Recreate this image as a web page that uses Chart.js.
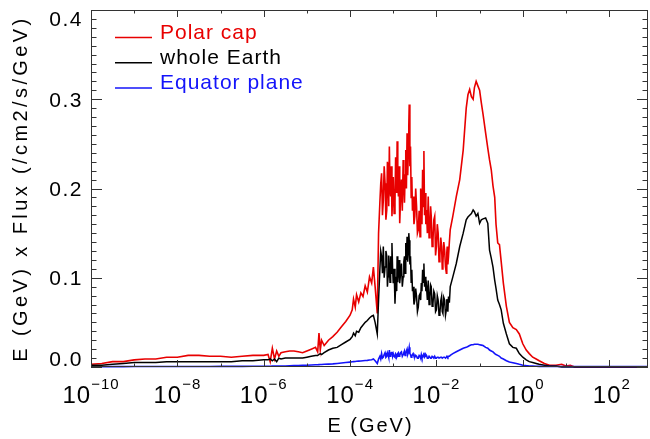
<!DOCTYPE html>
<html>
<head>
<meta charset="utf-8">
<script src="https://cdn.jsdelivr.net/npm/chart.js@4"></script>
<style>
  html, body { margin: 0; padding: 0; background: #fff; }
</style>
</head>
<body>
<canvas id="flux" width="650" height="439"></canvas>
<script>
// log10 of energy (GeV) for each sample
const logE = [
  -10, -9.75, -9.5, -9.25, -9, -8.75, -8.5, -8.25, -8, -7.75, -7.5, -7.25, -7, -6.75, -6.5, -6.25, -6,
  -5.9, -5.85, -5.8, -5.75, -5.7, -5.65, -5.6, -5.5, -5.4, -5.3, -5.2, -5.1, -5, -4.9, -4.8, -4.75, -4.72, -4.69, -4.66, -4.6,
  -4.5, -4.4, -4.3, -4.2, -4.1, -4, -3.95, -3.92, -3.88, -3.85, -3.8, -3.75, -3.7, -3.65, -3.6, -3.55, -3.5, -3.46, -3.42, -3.37, -3.34,
  -3.31, -3.29, -3.27, -3.25, -3.23, -3.21, -3.19, -3.17, -3.15, -3.135,
  -3.12, -3.105, -3.09, -3.075, -3.06, -3.045, -3.03, -3.015, -3, -2.98,
  -2.96, -2.945, -2.93, -2.92, -2.91, -2.895, -2.88, -2.865, -2.85, -2.83,
  -2.81, -2.79, -2.77, -2.755, -2.74, -2.725, -2.71, -2.695, -2.68, -2.665,
  -2.65, -2.64, -2.63, -2.615, -2.6, -2.585, -2.57, -2.555, -2.54, -2.52,
  -2.5, -2.48, -2.46, -2.44, -2.42, -2.4, -2.38, -2.365, -2.35, -2.335,
  -2.32, -2.305, -2.29, -2.275, -2.26, -2.245, -2.23, -2.21, -2.19, -2.17,
  -2.15, -2.135, -2.12, -2.1, -2.08, -2.06, -2.04, -2.02, -2, -1.98,
  -1.96, -1.94, -1.92, -1.9, -1.88, -1.865, -1.85, -1.83, -1.81, -1.79,
  -1.77, -1.76, -1.75, -1.735, -1.72, -1.7, -1.68,
  -1.62, -1.54, -1.46, -1.38, -1.31, -1.27, -1.23, -1.19, -1.15, -1.12, -1.08, -1.04, -1, -0.96, -0.92, -0.86, -0.81, -0.77, -0.73, -0.69,
  -0.65, -0.62, -0.58, -0.54, -0.5, -0.45, -0.38, -0.31, -0.23, -0.15, -0.08, 0, 0.08, 0.15, 0.23, 0.31, 0.38, 0.5, 0.62, 0.77,
  0.9, 1, 1.1, 1.2,
  1.5, 2, 2.5, 2.9
];

const polarCap = [
  0.003, 0.004, 0.006, 0.006, 0.008, 0.009, 0.009, 0.011, 0.011, 0.013, 0.013, 0.012, 0.012, 0.011, 0.012, 0.013, 0.013,
  0.014, 0.006, 0.021, 0.009, 0.018, 0.012, 0.016, 0.017, 0.018, 0.018, 0.017, 0.016, 0.018, 0.020, 0.022, 0.017, 0.038, 0.019, 0.030, 0.024,
  0.030, 0.034, 0.039, 0.045, 0.051, 0.058, 0.064, 0.076, 0.067, 0.081, 0.073, 0.083, 0.079, 0.091, 0.084, 0.101, 0.094, 0.112, 0.090, 0.060, 0.150,
  0.184, 0.205, 0.217, 0.170, 0.187, 0.225, 0.206, 0.165, 0.176, 0.230,
  0.221, 0.180, 0.247, 0.200, 0.191, 0.225, 0.169, 0.190, 0.213, 0.172,
  0.184, 0.235, 0.221, 0.195, 0.253, 0.210, 0.191, 0.225, 0.161, 0.190,
  0.210, 0.175, 0.232, 0.205, 0.184, 0.215, 0.243, 0.200, 0.262, 0.215,
  0.240, 0.270, 0.294, 0.225, 0.247, 0.190, 0.213, 0.175, 0.191, 0.160,
  0.169, 0.200, 0.180, 0.150, 0.154, 0.175, 0.146, 0.200, 0.184, 0.160,
  0.221, 0.180, 0.242, 0.170, 0.195, 0.160, 0.176, 0.150, 0.191, 0.145,
  0.157, 0.180, 0.169, 0.135, 0.142, 0.165, 0.169, 0.125, 0.135, 0.160,
  0.150, 0.118, 0.124, 0.145, 0.135, 0.110, 0.116, 0.140, 0.131, 0.112,
  0.105, 0.128, 0.135, 0.115, 0.124, 0.140, 0.154,
  0.169, 0.191, 0.210, 0.243, 0.290, 0.305, 0.311, 0.303, 0.300, 0.313, 0.320, 0.315, 0.310, 0.296, 0.283, 0.262, 0.245, 0.232, 0.221, 0.203,
  0.190, 0.160, 0.139, 0.137, 0.118, 0.094, 0.068, 0.050, 0.044, 0.042, 0.037, 0.026, 0.019, 0.015, 0.011, 0.009, 0.007, 0.004, 0.002, 0.002,
  0.003, 0.001, 0.002, 0,
  0, 0, 0, 0
];

const wholeEarth = [
  0.002, 0.002, 0.003, 0.004, 0.005, 0.005, 0.005, 0.006, 0.006, 0.006, 0.006, 0.006, 0.006, 0.006, 0.007, 0.007, 0.008,
  0.008, 0.009, 0.007, 0.009, 0.006, 0.010, 0.009, 0.010, 0.010, 0.010, 0.010, 0.010, 0.011, 0.012, 0.013, 0.013, 0.014, 0.015, 0.014, 0.016,
  0.019, 0.021, 0.022, 0.025, 0.028, 0.031, 0.034, 0.038, 0.035, 0.040, 0.039, 0.044, 0.047, 0.050, 0.052, 0.055, 0.057, 0.058, 0.050, 0.037, 0.075,
  0.109, 0.130, 0.124, 0.105, 0.135, 0.100, 0.112, 0.130, 0.124, 0.090,
  0.101, 0.125, 0.112, 0.095, 0.124, 0.105, 0.139, 0.110, 0.094, 0.110,
  0.071, 0.090, 0.101, 0.085, 0.124, 0.095, 0.109, 0.120, 0.094, 0.105,
  0.116, 0.090, 0.101, 0.118, 0.124, 0.105, 0.139, 0.120, 0.146, 0.118,
  0.131, 0.150, 0.142, 0.115, 0.124, 0.095, 0.109, 0.085, 0.090, 0.070,
  0.075, 0.088, 0.079, 0.062, 0.067, 0.080, 0.082, 0.075, 0.094, 0.085,
  0.109, 0.095, 0.116, 0.090, 0.101, 0.085, 0.090, 0.075, 0.097, 0.070,
  0.079, 0.092, 0.090, 0.068, 0.071, 0.085, 0.082, 0.062, 0.064, 0.080,
  0.075, 0.058, 0.060, 0.074, 0.079, 0.062, 0.060, 0.078, 0.075, 0.058,
  0.064, 0.076, 0.071, 0.062, 0.079, 0.072, 0.090,
  0.101, 0.116, 0.135, 0.150, 0.165, 0.168, 0.170, 0.172, 0.176, 0.174, 0.169, 0.172, 0.161, 0.165, 0.166, 0.167, 0.161, 0.131, 0.122, 0.112,
  0.097, 0.088, 0.075, 0.070, 0.064, 0.049, 0.037, 0.026, 0.022, 0.021, 0.015, 0.011, 0.008, 0.006, 0.005, 0.004, 0.003, 0.002, 0.001, 0.001,
  0, 0, 0, 0,
  0, 0, 0, 0
];

const equatorPlane = [
  0.0003, 0.0003, 0.0004, 0.0004, 0.0005, 0.0005, 0.0005, 0.0005, 0.0006, 0.0006, 0.0006, 0.0006, 0.0007, 0.0007, 0.0007, 0.0008, 0.0008,
  0.0009, 0.0009, 0.001, 0.001, 0.001, 0.001, 0.0011, 0.0012, 0.0013, 0.0015, 0.0016, 0.0018, 0.002, 0.0022, 0.0025, 0.0026, 0.0027, 0.0028, 0.0028, 0.003,
  0.0032, 0.0035, 0.004, 0.0045, 0.005, 0.0055, 0.0058, 0.006, 0.0062, 0.0064, 0.0066, 0.0068, 0.007, 0.0072, 0.0074, 0.0078, 0.0082, 0.009, 0.007, 0.004, 0.009,
  0.012, 0.009, 0.015, 0.010, 0.011, 0.014, 0.016, 0.011, 0.012, 0.016,
  0.014, 0.011, 0.019, 0.012, 0.013, 0.016, 0.017, 0.012, 0.015, 0.012,
  0.011, 0.015, 0.014, 0.011, 0.012, 0.015, 0.016, 0.012, 0.013, 0.016,
  0.017, 0.012, 0.014, 0.016, 0.018, 0.013, 0.015, 0.018, 0.020, 0.014,
  0.016, 0.019, 0.022, 0.015, 0.014, 0.011, 0.012, 0.014, 0.015, 0.012,
  0.011, 0.013, 0.012, 0.010, 0.010, 0.013, 0.012, 0.010, 0.014, 0.011,
  0.011, 0.013, 0.016, 0.011, 0.012, 0.014, 0.013, 0.010, 0.010, 0.012,
  0.012, 0.010, 0.010, 0.012, 0.011, 0.010, 0.012, 0.010, 0.010, 0.011,
  0.011, 0.010, 0.010, 0.011, 0.011, 0.010, 0.010, 0.011, 0.011, 0.010,
  0.011, 0.012, 0.012, 0.011, 0.012, 0.012, 0.013,
  0.015, 0.017, 0.019, 0.021, 0.022, 0.023, 0.024, 0.025, 0.025, 0.0255, 0.0255, 0.0255, 0.025, 0.0245, 0.024, 0.022, 0.021, 0.019, 0.018, 0.017,
  0.015, 0.014, 0.013, 0.012, 0.010, 0.009, 0.007, 0.0056, 0.0048, 0.004, 0.003, 0.002, 0.0015, 0.0012, 0.001, 0.0008, 0.0007, 0.0006, 0.0005, 0.0005,
  0.0005, 0.0005, 0.0005, 0.0005,
  0.0005, 0.0005, 0.0005, 0.0005
];

const seriesNames = ['Polar cap', 'whole Earth', 'Equator plane'];
const seriesColors = ['rgb(232,0,0)', 'rgb(0,0,0)', 'rgb(20,20,250)'];

// axis ticks
const yMajor = [0, 0.1, 0.2, 0.3, 0.4];
const yLabels = ['0.0', '0.1', '0.2', '0.3', '0.4'];
const xDecades = [-10, -9, -8, -7, -6, -5, -4, -3, -2, -1, 0, 1, 2];
const xLabelled = [-10, -8, -6, -4, -2, 0, 2];

const FONT = '"Liberation Sans", Arial, sans-serif';

function points(values) {
  return values.map((v, i) => ({ x: Math.pow(10, logE[i]), y: v }));
}

// IDL-style box with inward ticks, labels, titles and legend
const frame = {
  id: 'frame',
  afterDraw(chart) {
    const { ctx, chartArea: a, scales: { x, y } } = chart;
    ctx.save();
    ctx.strokeStyle = '#333';
    ctx.lineWidth = 1;
    ctx.strokeRect(a.left + 0.5, a.top + 0.5, a.right - a.left - 1, a.bottom - a.top - 1);

    // y ticks, every 0.01
    ctx.beginPath();
    for (let i = 0; i <= 40; i++) {
      const py = Math.round(y.getPixelForValue(i / 100)) + 0.5;
      const len = i % 10 === 0 ? 11 : 5.5;
      ctx.moveTo(a.left, py); ctx.lineTo(a.left + len, py);
      ctx.moveTo(a.right, py); ctx.lineTo(a.right - len, py);
    }
    // x ticks, every decade
    xDecades.forEach(d => {
      const px = Math.round(x.getPixelForValue(Math.pow(10, d))) + 0.5;
      const len = xLabelled.includes(d) ? 7 : 3.5;
      ctx.moveTo(px, a.bottom); ctx.lineTo(px, a.bottom - len);
      ctx.moveTo(px, a.top); ctx.lineTo(px, a.top + len);
    });
    ctx.stroke();

    ctx.fillStyle = '#000';
    // y tick labels
    ctx.font = '21px ' + FONT;
    ctx.letterSpacing = '1.5px';
    ctx.textAlign = 'right';
    ctx.textBaseline = 'middle';
    yMajor.forEach((v, i) => {
      let py = y.getPixelForValue(v) + 1.5;
      py = Math.min(Math.max(py, a.top + 10), a.bottom - 6.5);
      ctx.fillText(yLabels[i], 83, py);
    });

    // x tick labels: 10 with raised exponent
    ctx.textAlign = 'left';
    ctx.textBaseline = 'alphabetic';
    xLabelled.forEach(d => {
      const px = x.getPixelForValue(Math.pow(10, d));
      const exp = (d < 0 ? '\u2212' : '') + Math.abs(d);
      ctx.letterSpacing = '1px';
      ctx.font = '24px ' + FONT;
      const wb = ctx.measureText('10').width;
      ctx.font = '15px ' + FONT;
      const we = ctx.measureText(exp).width;
      let start = px - (wb + we) / 2;
      if (d >= 0) start = px - wb / 2 - 2;
      ctx.font = '24px ' + FONT;
      ctx.fillText('10', start, 403);
      ctx.font = '15px ' + FONT;
      ctx.fillText(exp, start + wb, 389);
    });

    // axis titles
    ctx.font = '20px ' + FONT;
    ctx.letterSpacing = '2px';
    ctx.textAlign = 'center';
    ctx.fillText('E (GeV)', (a.left + a.right) / 2 + 1, 432);

    ctx.save();
    ctx.translate(27, (a.top + a.bottom) / 2);
    ctx.rotate(-Math.PI / 2);
    ctx.letterSpacing = '3.4px';
    ctx.fillText('E (GeV) x Flux (/cm2/s/GeV)', 0, 0);
    ctx.restore();

    // legend
    ctx.font = '21px ' + FONT;
    ctx.letterSpacing = '1px';
    ctx.textAlign = 'left';
    ctx.lineWidth = 1.5;
    seriesNames.forEach((name, i) => {
      const ly = 37.5 + i * 25.3;
      ctx.strokeStyle = seriesColors[i];
      ctx.beginPath();
      ctx.moveTo(115, ly); ctx.lineTo(152, ly);
      ctx.stroke();
      ctx.fillStyle = seriesColors[i];
      ctx.fillText(name, 160, ly + 1);
    });
    ctx.restore();
  }
};

new Chart(document.getElementById('flux'), {
  type: 'line',
  data: {
    datasets: [
      { label: seriesNames[0], data: points(polarCap), borderColor: seriesColors[0], borderWidth: 1.6, order: 3 },
      { label: seriesNames[1], data: points(wholeEarth), borderColor: seriesColors[1], borderWidth: 1.5, order: 2 },
      { label: seriesNames[2], data: points(equatorPlane), borderColor: seriesColors[2], borderWidth: 1.6, order: 1 }
    ]
  },
  options: {
    responsive: false,
    animation: false,
    devicePixelRatio: 1,
    layout: { padding: { left: 91, right: 2, top: 10, bottom: 72 } },
    elements: { point: { radius: 0 }, line: { tension: 0 } },
    clip: 3,
    plugins: { legend: { display: false }, tooltip: { enabled: false } },
    scales: {
      x: { type: 'logarithmic', min: 1e-10, max: Math.pow(10, 2.9), display: false },
      y: { type: 'linear', min: 0, max: 0.4, display: false }
    }
  },
  plugins: [frame]
});
</script>
</body>
</html>
